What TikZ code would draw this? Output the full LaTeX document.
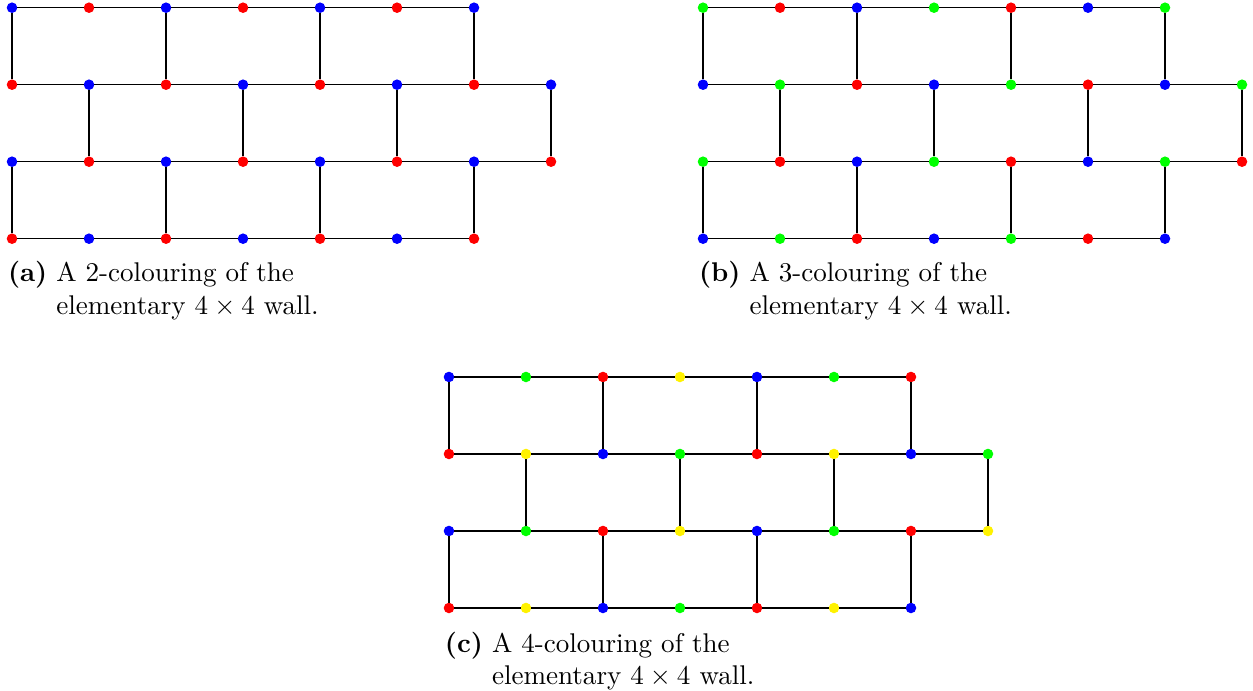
\documentclass[tikz,border=0pt]{standalone}
\usepackage{amsmath}
\usepackage{xcolor}
\usetikzlibrary{positioning}
\tikzset{
  % vertices and wall edges
  vtx/.style={circle,fill=#1,inner sep=0,outer sep=0,minimum size=3.9pt},
  wallline/.style={line width=0.4pt,black},
  capnode/.style={anchor=base west,inner sep=0,outer sep=0}
}

\begin{document}
\begin{tikzpicture}
  \useasboundingbox (0,0) rectangle (16.273,-8.974);
  % (a) 2-colouring
  \foreach \r/\cols in {0/{blue,red,blue,red,blue,red,blue},
                        1/{red,blue,red,blue,red,blue,red,blue},
                        2/{blue,red,blue,red,blue,red,blue,red},
                        3/{red,blue,red,blue,red,blue,red}}
    \foreach \c [count=\i from 0] in \cols
      \node[vtx=\c] (a-\r-\i) at (0.156+\i,-0.1-\r) {};
  % (b) 3-colouring
  \foreach \r/\cols in {0/{green,red,blue,green,red,blue,green},
                        1/{blue,green,red,blue,green,red,blue,green},
                        2/{green,red,blue,green,red,blue,green,red},
                        3/{blue,green,red,blue,green,red,blue}}
    \foreach \c [count=\i from 0] in \cols
      \node[vtx=\c] (b-\r-\i) at (9.13+\i,-0.1-\r) {};
  % (c) 4-colouring
  \foreach \r/\cols in {0/{blue,green,red,yellow,blue,green,red},
                        1/{red,yellow,blue,green,red,yellow,blue,green},
                        2/{blue,green,red,yellow,blue,green,red,yellow},
                        3/{red,yellow,blue,green,red,yellow,blue}}
    \foreach \c [count=\i from 0] in \cols
      \node[vtx=\c] (c-\r-\i) at (5.831+\i,-4.896-\r) {};
  % edges of the walls
  \foreach \w in {a,b,c}{
    \foreach \i [evaluate=\i as \j using int(\i+1)] in {0,...,5}{
      \draw[wallline] (\w-0-\i) -- (\w-0-\j);
      \draw[wallline] (\w-3-\i) -- (\w-3-\j);
    }
    \foreach \i [evaluate=\i as \j using int(\i+1)] in {0,...,6}{
      \draw[wallline] (\w-1-\i) -- (\w-1-\j);
      \draw[wallline] (\w-2-\i) -- (\w-2-\j);
    }
    \foreach \i in {0,2,4,6}{
      \draw[wallline] (\w-0-\i) -- (\w-1-\i);
      \draw[wallline] (\w-2-\i) -- (\w-3-\i);
    }
    \foreach \i in {1,3,5,7}
      \draw[wallline] (\w-1-\i) -- (\w-2-\i);
  }
  % captions
  \node[capnode] (capa) at (0.104,-3.662) {\begin{tabular}[t]{@{}l@{\hspace{3.33pt}}l@{}}
    \textbf{(a)} & A 2-colouring of the\\ & elementary $4\times 4$ wall.\end{tabular}};
  \node[capnode] (capb) at (9.078,-3.662) {\begin{tabular}[t]{@{}l@{\hspace{3.33pt}}l@{}}
    \textbf{(b)} & A 3-colouring of the\\ & elementary $4\times 4$ wall.\end{tabular}};
  \node[capnode] (capc) at (5.779,-8.468) {\begin{tabular}[t]{@{}l@{\hspace{3.33pt}}l@{}}
    \textbf{(c)} & A 4-colouring of the\\ & elementary $4\times 4$ wall.\end{tabular}};
\end{tikzpicture}
\end{document}
